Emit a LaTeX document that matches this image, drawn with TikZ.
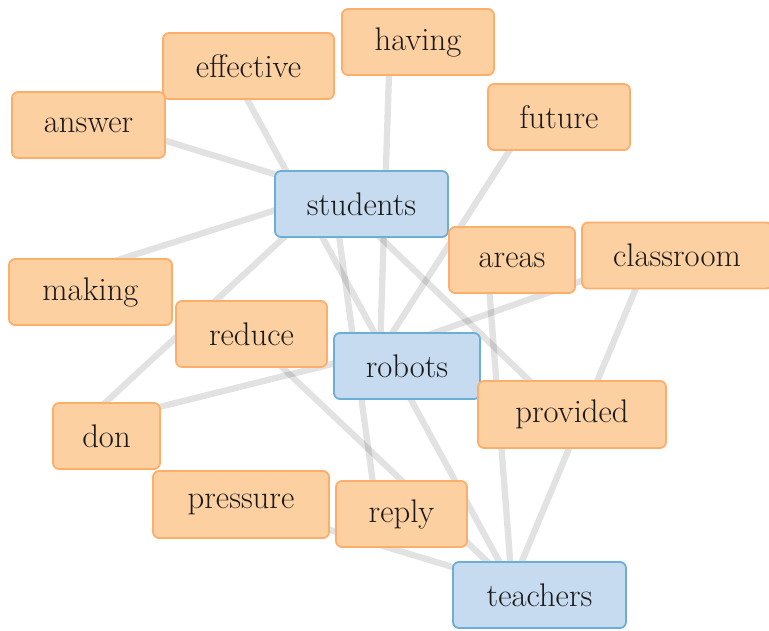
\documentclass[tikz,border=0pt]{standalone}
\definecolor{ofill}{HTML}{FDD0A2}
\definecolor{oline}{HTML}{FDAE6B}
\definecolor{bfill}{HTML}{C6DBEF}
\definecolor{bline}{HTML}{6BAED6}
\definecolor{txt}{HTML}{1A1A1A}
\tikzset{
  word/.style={draw=oline, fill=ofill, rounded corners=6pt, line width=1.8pt,
    inner sep=0pt, text=txt, font=\fontsize{32.7}{39}\selectfont},
  hub/.style={word, draw=bline, fill=bfill},
  link/.style={draw=black, opacity=0.115, line width=6.3pt}
}
\begin{document}
\begin{tikzpicture}[x=1pt,y=-1pt]
\useasboundingbox (0,0) rectangle (769,630);
\clip (0,0) rectangle (769,630);
% hidden anchor positions of the graph vertices
\coordinate (p-answer) at (88,117);
\coordinate (p-effective) at (230,68);
\coordinate (p-having) at (390,42);
\coordinate (p-future) at (531,117);
\coordinate (p-students) at (333,192);
\coordinate (p-areas) at (487,260);
\coordinate (p-classroom) at (649,257);
\coordinate (p-making) at (105,264);
\coordinate (p-reduce) at (247,334);
\coordinate (p-robots) at (380,352);
\coordinate (p-provided) at (562,412);
\coordinate (p-don) at (79,427);
\coordinate (p-pressure) at (241,503);
\coordinate (p-reply) at (376,505);
\coordinate (p-teachers) at (512,585);
% edges
\draw[link] (p-answer) -- (p-students);
\draw[link] (p-making) -- (p-students);
\draw[link] (p-don) -- (p-students);
\draw[link] (p-effective) -- (p-teachers);
\draw[link] (p-having) -- (p-robots);
\draw[link] (p-students) -- (p-reply);
\draw[link] (p-students) -- (p-provided);
\draw[link] (p-future) -- (p-robots);
\draw[link] (p-classroom) -- (p-robots);
\draw[link] (p-classroom) -- (p-teachers);
\draw[link] (p-areas) -- (p-teachers);
\draw[link] (p-reduce) -- (p-teachers);
\draw[link] (p-pressure) -- (p-teachers);
\draw[link] (p-don) -- (p-robots);
% labels
\node[word, minimum width=171pt, minimum height=66pt] (effective) at (248.5,66) {effective};
\node[word, minimum width=152pt, minimum height=66pt] (having) at (418,42) {having};
\node[word, minimum width=153pt, minimum height=66pt] (answer) at (88.5,125) {answer};
\node[word, minimum width=142pt, minimum height=66pt] (future) at (559,117) {future};
\node[hub, minimum width=173pt, minimum height=66pt] (students) at (361.5,204) {students};
\node[word, minimum width=126pt, minimum height=66pt] (areas) at (512,260) {areas};
\node[word, minimum width=190pt, minimum height=66pt] (classroom) at (677,255.5) {classroom};
\node[word, minimum width=163pt, minimum height=66pt] (making) at (90.5,292) {making};
\node[word, minimum width=151pt, minimum height=66pt] (reduce) at (251.5,334) {reduce};
\node[hub, minimum width=146pt, minimum height=66pt] (robots) at (407,366) {robots};
\node[word, minimum width=188pt, minimum height=67pt] (provided) at (572,414.5) {provided};
\node[word, minimum width=107pt, minimum height=66pt] (don) at (106.5,436) {don};
\node[word, minimum width=176pt, minimum height=67pt] (pressure) at (241,504.5) {pressure};
\node[word, minimum width=131pt, minimum height=66pt] (reply) at (401.5,514) {reply};
\node[hub, minimum width=173pt, minimum height=66pt] (teachers) at (539.5,595) {teachers};
\end{tikzpicture}
\end{document}
